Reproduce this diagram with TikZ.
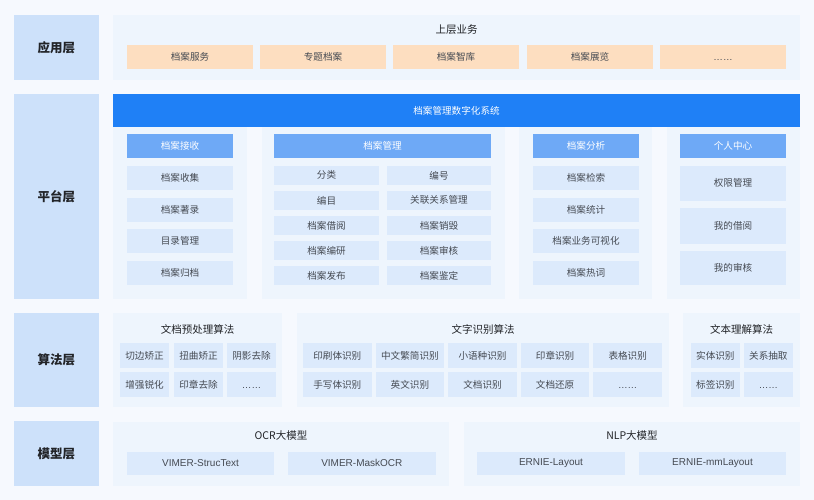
\documentclass[tikz,border=0pt]{standalone}
\usepackage{fontspec}
\setmainfont{Noto Sans CJK SC}
\newfontfamily\latn{Liberation Sans}
\definecolor{bgc}{HTML}{F6F9FE}
\definecolor{panelc}{HTML}{EEF5FD}
\definecolor{itemc}{HTML}{DCEAFC}
\definecolor{headc}{HTML}{6EA9F6}
\definecolor{barc}{HTML}{1F80F6}
\definecolor{layerc}{HTML}{CDE1FA}
\definecolor{orc}{HTML}{FDDEC0}
\definecolor{txt}{HTML}{454A52}
\definecolor{dark}{HTML}{222428}
\newcommand\bx[7]{\node[#6, minimum width={(#4)-(#2)}, minimum height={(#5)-(#3)}] (#1) at ({((#2)+(#4))/2},{((#3)+(#5))/2}) {#7};}
\newcommand\mydots{\vphantom{档}{\latn ……}}
\begin{document}
\begin{tikzpicture}[x=1pt,y=-1pt,
  every node/.style={inner sep=0pt,outer sep=0pt,font=\fontsize{9.6}{11}\selectfont},
  layer/.style={fill=layerc,text=dark,font=\fontsize{12.5}{14}\selectfont\bfseries},
  panel/.style={fill=panelc},
  item/.style={fill=itemc,text=txt},
  litem/.style={fill=itemc,text=txt,font=\fontsize{10}{12}\latn},
  head/.style={fill=headc,text=white},
  orange/.style={fill=orc,text=txt},
  bar/.style={fill=barc,text=white},
  ttl/.style={text=dark,font=\fontsize{10.5}{12}\selectfont}]
\fill[bgc] (0,0) rectangle (814,500);
\useasboundingbox (0,0) rectangle (814,500);
% layer labels
\bx{L1}{14}{15}{99}{80}{layer}{应用层}
\bx{L2}{14}{94}{99}{299}{layer}{平台层}
\bx{L3}{14}{313}{99}{407}{layer}{算法层}
\bx{L4}{14}{421}{99}{486}{layer}{模型层}
% application layer
\bx{P1}{113}{15}{800}{80}{panel}{}
\node[ttl] (t1) at (456.5,30) {上层业务};
\bx{a1}{127}{45}{253}{69.3}{orange}{档案服务}
\bx{a2}{260}{45}{386}{69.3}{orange}{专题档案}
\bx{a3}{393}{45}{519}{69.3}{orange}{档案智库}
\bx{a4}{527}{45}{653}{69.3}{orange}{档案展览}
\bx{a5}{660}{45}{786}{69.3}{orange}{\mydots}
% platform layer
\bx{bar}{113}{94}{800}{127}{bar}{档案管理数字化系统}
\bx{sp1}{113}{127}{247}{299}{panel}{}
\bx{sp2}{262}{127}{505}{299}{panel}{}
\bx{sp3}{519}{127}{652}{299}{panel}{}
\bx{sp4}{667}{127}{800}{299}{panel}{}
% column 1
\bx{h1}{127}{134}{233}{158}{head}{档案接收}
\bx{c11}{127}{165.7}{233}{190}{item}{档案收集}
\bx{c12}{127}{197.7}{233}{221.7}{item}{档案著录}
\bx{c13}{127}{229.3}{233}{253.3}{item}{目录管理}
\bx{c14}{127}{261}{233}{285}{item}{档案归档}
% column 2
\bx{h2}{274}{134}{491}{158}{head}{档案管理}
\bx{c21}{274}{165.7}{379}{185}{item}{分类}
\bx{c22}{387}{165.7}{491}{185}{item}{编号}
\bx{c23}{274}{190.7}{379}{210}{item}{编目}
\bx{c24}{387}{190.7}{491}{210}{item}{关联关系管理}
\bx{c25}{274}{215.7}{379}{235}{item}{档案借阅}
\bx{c26}{387}{215.7}{491}{235}{item}{档案销毁}
\bx{c27}{274}{240.7}{379}{260}{item}{档案编研}
\bx{c28}{387}{240.7}{491}{260}{item}{档案审核}
\bx{c29}{274}{265.7}{379}{285}{item}{档案发布}
\bx{c2a}{387}{265.7}{491}{285}{item}{档案鉴定}
% column 3
\bx{h3}{533}{134}{639}{158}{head}{档案分析}
\bx{c31}{533}{165.7}{639}{190}{item}{档案检索}
\bx{c32}{533}{197.7}{639}{221.7}{item}{档案统计}
\bx{c33}{533}{229.3}{639}{253.3}{item}{档案业务可视化}
\bx{c34}{533}{261}{639}{285}{item}{档案热词}
% column 4
\bx{h4}{680}{134}{786}{158}{head}{个人中心}
\bx{c41}{680}{165.7}{786}{201}{item}{权限管理}
\bx{c42}{680}{208.3}{786}{244}{item}{我的借阅}
\bx{c43}{680}{251}{786}{285}{item}{我的审核}
% algorithm layer
\bx{g1}{113}{313}{282}{407}{panel}{}
\bx{g2}{297}{313}{669}{407}{panel}{}
\bx{g3}{683}{313}{800}{407}{panel}{}
\node[ttl] (gt1) at (197.5,329) {文档预处理算法};
\node[ttl] (gt2) at (483,329) {文字识别算法};
\node[ttl] (gt3) at (741.5,329) {文本理解算法};
\bx{d11}{120}{343}{169}{368}{item}{切边矫正}
\bx{d12}{174}{343}{223}{368}{item}{扭曲矫正}
\bx{d13}{227}{343}{276}{368}{item}{阴影去除}
\bx{d14}{120}{372}{169}{397}{item}{增强锐化}
\bx{d15}{174}{372}{223}{397}{item}{印章去除}
\bx{d16}{227}{372}{276}{397}{item}{\mydots}
\bx{d21}{303}{343}{371.6}{368}{item}{印刷体识别}
\bx{d22}{375.6}{343}{444.2}{368}{item}{中文繁简识别}
\bx{d23}{448.2}{343}{516.8}{368}{item}{小语种识别}
\bx{d24}{520.8}{343}{589.4}{368}{item}{印章识别}
\bx{d25}{593.4}{343}{662}{368}{item}{表格识别}
\bx{d26}{303}{372}{371.6}{397}{item}{手写体识别}
\bx{d27}{375.6}{372}{444.2}{397}{item}{英文识别}
\bx{d28}{448.2}{372}{516.8}{397}{item}{文档识别}
\bx{d29}{520.8}{372}{589.4}{397}{item}{文档还原}
\bx{d2a}{593.4}{372}{662}{397}{item}{\mydots}
\bx{d31}{690.7}{343}{740}{368}{item}{实体识别}
\bx{d32}{744}{343}{792.7}{368}{item}{关系抽取}
\bx{d33}{690.7}{372}{740}{397}{item}{标签识别}
\bx{d34}{744}{372}{792.7}{397}{item}{\mydots}
% model layer
\bx{m1}{113}{421.7}{449}{486}{panel}{}
\bx{m2}{464}{421.7}{800}{486}{panel}{}
\node[ttl] (mt1) at (281,436) {OCR大模型};
\node[ttl] (mt2) at (632,436) {NLP大模型};
\bx{e1}{127}{451.7}{274}{475}{litem}{VIMER-StrucText}
\bx{e2}{288}{451.7}{435.7}{475}{litem}{VIMER-MaskOCR}
\bx{e3}{477}{451.7}{625}{475}{litem}{ERNIE-Layout}
\bx{e4}{639}{451.7}{786}{475}{litem}{ERNIE-mmLayout}
\end{tikzpicture}
\end{document}
